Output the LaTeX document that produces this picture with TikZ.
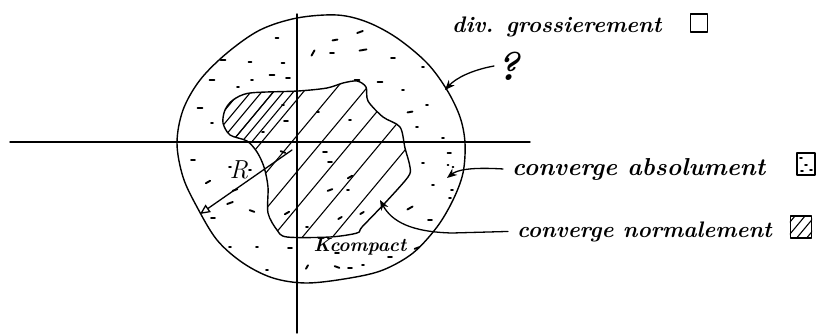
\documentclass[tikz,border=0pt]{standalone}
\usetikzlibrary{arrows.meta}
\begin{document}
\begin{tikzpicture}[x=1pt,y=-1pt, line cap=round, line join=round,
  ink/.style={line width=1.4pt},
  hatchline/.style={line width=1.1pt},
  speck/.style={line width=1.9pt},
  lbl/.style={font=\fontsize{22.5}{27}\selectfont\bfseries\itshape, inner sep=0pt, anchor=base west},
  arr/.style={line width=1.3pt, -{Stealth[length=10pt,width=8pt]}},
]
\useasboundingbox (0,0) rectangle (822,333);

% axes
\coordinate (xl) at (10,142);
\coordinate (xr) at (530,142);
\coordinate (yt) at (297,14);
\coordinate (yb) at (297,333);
\draw[ink] (xl) -- (xr);
\draw[ink] (yt) -- (yb);

% disk of convergence
\draw[ink] plot[smooth cycle, tension=0.55] coordinates {
 (297,18) (337,15) (367,22) (397,38) (427,63) (447,90) (460,117) (465,143)
 (463,173) (453,200) (437,227) (413,253) (383,270) (350,278) (307,283)
 (273,278) (243,263) (217,240) (197,207) (183,177) (177,143) (183,110)
 (200,80) (227,53) (260,30)};

% hatching of compact K
\begin{scope}
 \clip plot[smooth cycle, tension=0.5] coordinates {
 (225,110) (233,100) (250,93) (298,91) (327,88) (343,83) (357,81) (366,87)
 (368,101) (383,117) (400,127) (405,148) (410,167) (408,177) (385,203)
 (362,227) (357,233) (330,237) (287,237) (277,230) (268,213) (268,187)
 (264,167) (257,152) (247,141) (230,135) (223,123)};
 \foreach \c in {420,456,...,720}
   \draw[hatchline] (200,\c-240) -- (420,\c-504);
 \begin{scope}
  \clip (215,80) rectangle (300,142);
  \foreach \c in {380,393,406,420,432,444}
   \draw[hatchline] (200,\c-240) -- (420,\c-504);
 \end{scope}
\end{scope}
\draw[ink] plot[smooth cycle, tension=0.5] coordinates {
 (225,110) (233,100) (250,93) (298,91) (327,88) (343,83) (357,81) (366,87)
 (368,101) (383,117) (400,127) (405,148) (410,167) (408,177) (385,203)
 (362,227) (357,233) (330,237) (287,237) (277,230) (268,213) (268,187)
 (264,167) (257,152) (247,141) (230,135) (223,123)};

% specks (absolute convergence region)
\foreach \x/\y/\a/\l in {
 277/38/0/3, 335/40/10/5, 360/32/20/6, 223/60/0/5, 250/62/0/3, 283/63/0/3,
 313/53/60/6, 332/53/0/4, 363/50/10/7, 393/58/0/4, 212/80/0/5, 238/87/0/2,
 252/80/0/2, 272/75/0/5, 288/78/0/4, 357/80/0/5, 380/82/0/5, 403/90/0/2,
 423/67/0/2, 200/108/0/5, 212/123/0/2, 410/112/10/5, 427/105/0/2, 417/127/0/2,
 443/138/0/2, 193/160/0/4, 230/167/0/2, 208/182/30/5, 235/190/20/5,
 230/203/20/6, 213/218/0/4, 252/211/-20/5, 230/247/0/2, 257/247/0/2,
 290/248/0/4, 267/270/0/2, 307/267/60/4, 337/267/-20/5, 350/268/0/4,
 363/265/0/2, 337/253/0/4, 390/257/0/4, 417/248/20/5, 423/163/0/2,
 450/153/0/2, 433/185/0/2, 452/190/0/2, 410/208/30/6, 430/220/0/4,
 448/153/0/1, 448/165/0/1, 453/167/0/1, 450/198/0/2,
 330/162/0/4, 330/190/20/5, 348/190/0/2, 350/177/30/5, 287/213/30/5,
 307/227/0/2, 340/218/30/4, 362/213/30/4, 318/112/0/2, 350/120/0/2,
 325/152/0/4, 283/152/-20/5, 250/170/0/2, 286/121/0/4, 283/105/0/2,
 263/132/0/2}
 \draw[speck, rotate around={\a:(\x,\y)}] (\x-\l/2,\y) -- (\x+\l/2,\y);

% radius arrow
\coordinate (o) at (292,150);
\coordinate (rt) at (200,214);
\draw[line width=1.3pt, -{Triangle[open,length=10pt,width=9pt]}] (o) -- (rt);
\node[font=\fontsize{26}{30}\selectfont\itshape, inner sep=0pt] (R) at (239,170) {R};
\node[font=\fontsize{19}{22}\selectfont\bfseries\itshape, inner sep=0pt] (K) at (360,247) {Kcompact};

% labels
\node[lbl] (div) at (452,32) {div. grossierement};
\node[lbl, font=\fontsize{24.5}{29}\selectfont\bfseries\itshape] (abs) at (512,175) {converge absolument};
\node[lbl] (nor) at (517,237) {converge normalement};
\node[font=\fontsize{40}{44}\selectfont\bfseries\itshape, inner sep=2pt] (q) at (508,66) {?};

% legend squares
\node[draw, line width=1.4pt, minimum width=17pt, minimum height=18pt, inner sep=0pt] (b1) at (699,23) {};
\node[draw, line width=1.4pt, minimum width=18pt, minimum height=22pt, inner sep=0pt] (b2) at (806,164) {};
\foreach \x/\y in {801/158, 806/165, 811/170, 802/171}
  \draw[speck] (\x-1,\y) -- (\x+1,\y);
\node[draw, line width=1.4pt, minimum width=21pt, minimum height=22pt, inner sep=0pt] (b3) at (801,227) {};
\begin{scope}
 \clip (b3.south west) rectangle (b3.north east);
 \foreach \c in {1170,1182,1194,1206}
   \draw[hatchline] (780,\c-780*1.2) -- (820,\c-820*1.2);
\end{scope}

% pointing arrows
\coordinate (qt) at (445,90);
\coordinate (at) at (447,178);
\coordinate (nt) at (380,200);
\draw[arr] (q.west) .. controls (472,70) and (456,78) .. (qt);
\draw[arr] ([xshift=-9pt]abs.west) .. controls (470,167) and (457,170) .. (at);
\draw[arr] ([xshift=-9pt]nor.west) -- (452,233) .. controls (412,232) and (392,222) .. (nt);
\end{tikzpicture}
\end{document}
